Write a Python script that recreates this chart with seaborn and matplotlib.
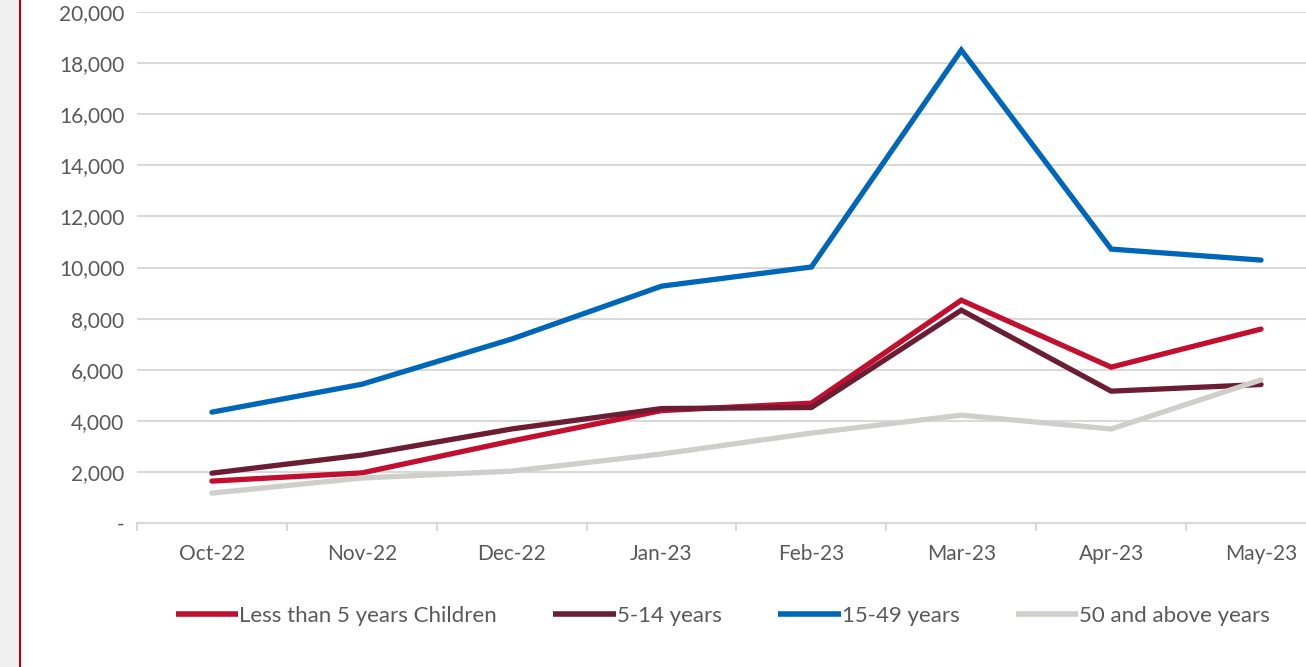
import numpy as np
import pandas as pd
import matplotlib
matplotlib.use("Agg")
import matplotlib.pyplot as plt
import seaborn as sns
from matplotlib.ticker import FuncFormatter, FixedLocator
from matplotlib.patches import Rectangle
from matplotlib.lines import Line2D

months = ["Oct-22", "Nov-22", "Dec-22", "Jan-23", "Feb-23", "Mar-23", "Apr-23", "May-23"]
series_names = ["Less than 5 years Children", "5-14 years", "15-49 years", "50 and above years"]
under5 = [1640, 1960, 3210, 4400, 4690, 8720, 6100, 7590]
age5_14 = [1950, 2660, 3680, 4480, 4520, 8330, 5160, 5420]
age15_49 = [4340, 5430, 7200, 9270, 10020, 18510, 10720, 10290]
age50_plus = [1170, 1760, 2030, 2700, 3520, 4220, 3680, 5600]
colors = ["#C20E2F", "#6B1D33", "#0066B8", "#CFCECA"]
yticks = [0, 2000, 4000, 6000, 8000, 10000, 12000, 14000, 16000, 18000, 20000]

rows = []
for name, vals in zip(series_names, [under5, age5_14, age15_49, age50_plus]):
    for i, v in enumerate(vals):
        rows.append({"pos": i, "month": months[i], "value": v, "group": name})
df = pd.DataFrame(rows)

sns.set_theme(style="white")
plt.rcParams["font.family"] = ["Lato", "DejaVu Sans"]
text_color = "#595959"

fig = plt.figure(figsize=(13.06, 6.67), dpi=100)
ax = fig.add_axes([137 / 1306, 1 - 523 / 667, 1 - 137 / 1306, (523 - 12) / 667])

sns.lineplot(data=df, x="pos", y="value", hue="group", hue_order=series_names,
             palette=colors, linewidth=3.8, ax=ax, legend=False, sort=False,
             solid_capstyle="round", solid_joinstyle="miter", zorder=3)

ax.set_xlim(-0.5, (1306 - 211) / 150)
ax.set_ylim(0, 20000)
ax.set_yticks(yticks)
ax.yaxis.set_major_formatter(FuncFormatter(lambda v, p: "-" if v == 0 else f"{int(v):,}"))
ax.grid(axis="y", color="#D9D9D9", linewidth=1.5, zorder=0)
ax.grid(axis="x", visible=False)
ax.set_xticks(range(len(months)))
ax.set_xticklabels(months)
ax.xaxis.set_minor_locator(FixedLocator([i - 0.5 for i in range(len(months))]))
ax.tick_params(axis="x", which="major", length=0, pad=15, labelsize=15, labelcolor=text_color)
ax.tick_params(axis="x", which="minor", length=6, width=1.5, color="#D9D9D9", bottom=True)
ax.tick_params(axis="y", length=0, pad=9, labelsize=15, labelcolor=text_color)
ax.set_xlabel("")
ax.set_ylabel("")
for s in ["top", "right", "left"]:
    ax.spines[s].set_visible(False)
ax.spines["bottom"].set_color("#D9D9D9")
ax.spines["bottom"].set_linewidth(1.5)

# left decoration: gray strip and red rule
fig.patches.append(Rectangle((0, 0), 18 / 1306, 1, transform=fig.transFigure,
                             facecolor="#F0F0F0", edgecolor="none", zorder=0))
fig.add_artist(Line2D([19.5 / 1306, 19.5 / 1306], [0, 1], transform=fig.transFigure,
                      color="#C00000", linewidth=1.5))

handles = [Line2D([0], [0], color=c, linewidth=4.0, solid_capstyle="butt") for c in colors]
fig.legend(handles, series_names, loc="center", bbox_to_anchor=(723 / 1306, 1 - 616 / 667),
           ncol=4, frameon=False, handlelength=2.8, handletextpad=0.05, columnspacing=2.55,
           fontsize=16, labelcolor=text_color)

fig.savefig("out.png", dpi=100)
